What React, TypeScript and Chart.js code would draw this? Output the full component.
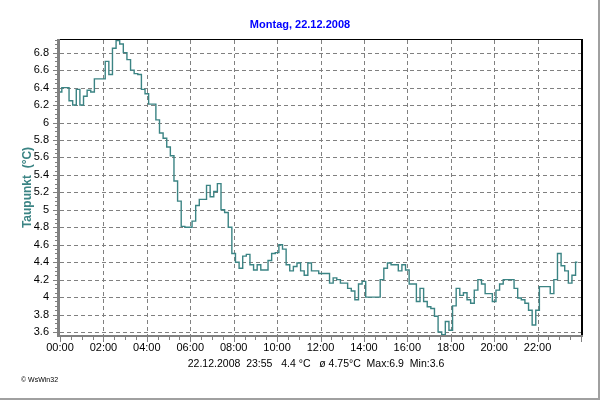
import React, { useEffect, useRef } from "react";
import { Chart, registerables } from "chart.js";

Chart.register(...registerables);

const TITLE = "Montag, 22.12.2008";
const Y_TITLE = "Taupunkt  (°C)";
const FOOTER = "22.12.2008  23:55   4.4 °C   ø 4.75°C  Max:6.9  Min:3.6";
const COPYRIGHT = "© WsWin32";

// one value every 10 minutes, 00:00 .. 23:50
const STEP_MINUTES = 10;
const dewPoint = [
  6.35, 6.4, 6.4, 6.25, 6.2, 6.38,
  6.2, 6.3, 6.37, 6.35, 6.5, 6.5,
  6.5, 6.7, 6.55, 6.85, 6.94, 6.9,
  6.8, 6.72, 6.6, 6.56, 6.55, 6.38,
  6.33, 6.21, 6.21, 6.03, 5.88, 5.82,
  5.72, 5.62, 5.33, 5.1, 4.81, 4.8,
  4.8, 4.87, 5.05, 5.12, 5.12, 5.28,
  5.15, 5.21, 5.3, 5.0, 4.97, 4.8,
  4.5, 4.4, 4.33, 4.47, 4.49, 4.37,
  4.31, 4.37, 4.31, 4.31, 4.42, 4.5,
  4.51, 4.6, 4.55, 4.37, 4.3, 4.35,
  4.39, 4.3, 4.25, 4.39, 4.3, 4.3,
  4.27, 4.27, 4.27, 4.16, 4.22, 4.2,
  4.16, 4.16, 4.1, 4.07, 3.97, 4.15,
  4.18, 4.0, 4.0, 4.0, 4.0, 4.2,
  4.33, 4.39, 4.37, 4.37, 4.3, 4.37,
  4.31, 4.15, 4.15, 3.95, 4.1, 3.95,
  3.89, 3.87, 3.78, 3.6, 3.57, 3.72,
  3.62, 3.9, 4.1, 4.02, 4.05, 3.97,
  3.93, 4.08, 4.2, 4.15, 4.04, 4.04,
  3.95, 4.08, 4.15, 4.2, 4.2, 4.2,
  4.1, 3.99, 3.97, 3.93, 3.85, 3.68,
  3.85, 4.12, 4.12, 4.12, 4.04, 4.2,
  4.5, 4.36, 4.3, 4.16, 4.25, 4.4,
];

const yTicks = [3.6, 3.8, 4.0, 4.2, 4.4, 4.6, 4.8, 5.0, 5.2, 5.4, 5.6, 5.8, 6.0, 6.2, 6.4, 6.6, 6.8];
const xTickHours = [0, 2, 4, 6, 8, 10, 12, 14, 16, 18, 20, 22];
const Y_MIN = 3.566;
const Y_MAX = 6.945;
const X_MAX_MINUTES = 1440;

const FONT = "'Liberation Sans', Arial, sans-serif";
const LINE_COLOR = "#3b8484";
const GRID_COLOR = "#808080";

const decorPlugin = {
  id: "decor",
  beforeDatasetsDraw(chart: any) {
    const { ctx, chartArea, scales } = chart;
    const { left, right, top, bottom } = chartArea;
    const xs = scales.x;
    const ys = scales.y;
    ctx.save();
    ctx.strokeStyle = GRID_COLOR;
    ctx.lineWidth = 1;
    ctx.setLineDash([4, 3]);
    yTicks.forEach((v) => {
      const y = Math.round(ys.getPixelForValue(v)) + 0.5;
      ctx.beginPath();
      ctx.moveTo(left, y);
      ctx.lineTo(right, y);
      ctx.stroke();
    });
    xTickHours.forEach((h) => {
      if (h === 0) return;
      const x = Math.round(xs.getPixelForValue(h * 60)) + 0.5;
      ctx.beginPath();
      ctx.moveTo(x, top);
      ctx.lineTo(x, bottom);
      ctx.stroke();
    });
    ctx.setLineDash([]);
    ctx.restore();
  },
  afterDatasetsDraw(chart: any) {
    const { ctx, chartArea, scales, width, height } = chart;
    const { left, right, top, bottom } = chartArea;
    const xs = scales.x;
    const ys = scales.y;
    ctx.save();
    ctx.strokeStyle = "#000000";
    ctx.lineWidth = 1;
    ctx.beginPath();
    ctx.moveTo(left - 2, top - 0.5);
    ctx.lineTo(right + 1, top - 0.5);
    ctx.stroke();
    ctx.lineWidth = 2;
    ctx.beginPath();
    ctx.moveTo(right + 1, top - 1);
    ctx.lineTo(right + 1, bottom + 1);
    ctx.stroke();

    ctx.strokeStyle = "#808080";
    ctx.lineWidth = 3;
    ctx.beginPath();
    ctx.moveTo(left - 1.5, top - 1);
    ctx.lineTo(left - 1.5, bottom + 2);
    ctx.stroke();
    ctx.lineWidth = 1;
    for (let v = 3.6; v <= 6.95; v += 0.05) {
      const y = Math.round(ys.getPixelForValue(v)) + 0.5;
      ctx.beginPath();
      ctx.moveTo(left - 5, y);
      ctx.lineTo(left, y);
      ctx.stroke();
    }
    yTicks.forEach((v) => {
      const y = Math.round(ys.getPixelForValue(v)) + 0.5;
      ctx.beginPath();
      ctx.moveTo(left - 7, y);
      ctx.lineTo(left, y);
      ctx.stroke();
    });

    ctx.lineWidth = 2;
    ctx.beginPath();
    ctx.moveTo(left - 3, bottom + 1);
    ctx.lineTo(right + 2, bottom + 1);
    ctx.stroke();
    ctx.lineWidth = 1;
    for (let m = 0; m <= X_MAX_MINUTES; m += 30) {
      const x = Math.round(xs.getPixelForValue(m)) + 0.5;
      const len = m % 120 === 0 ? 6 : 4;
      ctx.beginPath();
      ctx.moveTo(x, bottom + 1);
      ctx.lineTo(x, bottom + 1 + len);
      ctx.stroke();
    }

    ctx.textAlign = "center";
    ctx.textBaseline = "alphabetic";
    ctx.fillStyle = "#0000ff";
    ctx.font = `bold 11px ${FONT}`;
    ctx.fillText(TITLE, 300, 28);

    ctx.fillStyle = "#000000";
    ctx.font = `10.5px ${FONT}`;
    ctx.fillText(FOOTER, 316, 367);

    ctx.textAlign = "left";
    ctx.font = `7px ${FONT}`;
    ctx.fillText(COPYRIGHT, 21, 382);

    ctx.save();
    ctx.translate(31, (top + bottom) / 2);
    ctx.rotate(-Math.PI / 2);
    ctx.textAlign = "center";
    ctx.fillStyle = "#3b8484";
    ctx.font = `bold 12px ${FONT}`;
    ctx.fillText(Y_TITLE, 0, 0);
    ctx.restore();

    ctx.strokeStyle = "#a0a0a0";
    ctx.lineWidth = 2;
    ctx.beginPath();
    ctx.moveTo(width - 1, 0);
    ctx.lineTo(width - 1, height - 1);
    ctx.lineTo(0, height - 1);
    ctx.stroke();
    ctx.restore();
  },
};

export default function App() {
  const canvasRef = useRef<HTMLCanvasElement | null>(null);

  useEffect(() => {
    const canvas = canvasRef.current;
    if (!canvas) return;
    const points = dewPoint.map((v, i) => ({ x: i * STEP_MINUTES, y: v }));
    const chart = new Chart(canvas, {
      type: "line",
      data: {
        datasets: [
          {
            data: points,
            borderColor: LINE_COLOR,
            borderWidth: 1.4,
            pointRadius: 0,
            stepped: "middle",
            fill: false,
          },
        ],
      },
      options: {
        animation: false,
        responsive: false,
        maintainAspectRatio: false,
        devicePixelRatio: 1,
        layout: { padding: { top: 40, right: 19, bottom: 0, left: 0 } },
        plugins: {
          legend: { display: false },
          tooltip: { enabled: false },
          title: { display: false },
        },
        scales: {
          x: {
            type: "linear",
            min: 0,
            max: X_MAX_MINUTES,
            afterBuildTicks: (s: any) => {
              s.ticks = xTickHours.map((h) => ({ value: h * 60 }));
            },
            afterFit: (s: any) => {
              s.height = 65;
            },
            grid: { display: false, drawTicks: false },
            border: { display: false },
            ticks: {
              color: "#000000",
              font: { family: FONT, size: 11 },
              padding: 6,
              maxRotation: 0,
              autoSkip: false,
              callback: (v: any) => {
                const h = Math.round(Number(v) / 60);
                return `${String(h).padStart(2, "0")}:00`;
              },
            },
          },
          y: {
            type: "linear",
            min: Y_MIN,
            max: Y_MAX,
            afterBuildTicks: (s: any) => {
              s.ticks = yTicks.map((v) => ({ value: v }));
            },
            afterFit: (s: any) => {
              s.width = 60;
            },
            grid: { display: false, drawTicks: false },
            border: { display: false },
            ticks: {
              color: "#000000",
              font: { family: FONT, size: 11 },
              padding: 11,
              autoSkip: false,
              callback: (v: any) => String(Number(Number(v).toFixed(1))),
            },
          },
        },
      },
      plugins: [decorPlugin],
    });
    return () => chart.destroy();
  }, []);

  return (
    <div style={{ position: "fixed", left: 0, top: 0, width: 600, height: 400, background: "#ffffff" }}>
      <canvas ref={canvasRef} width={600} height={400} style={{ display: "block", width: 600, height: 400 }} />
    </div>
  );
}
